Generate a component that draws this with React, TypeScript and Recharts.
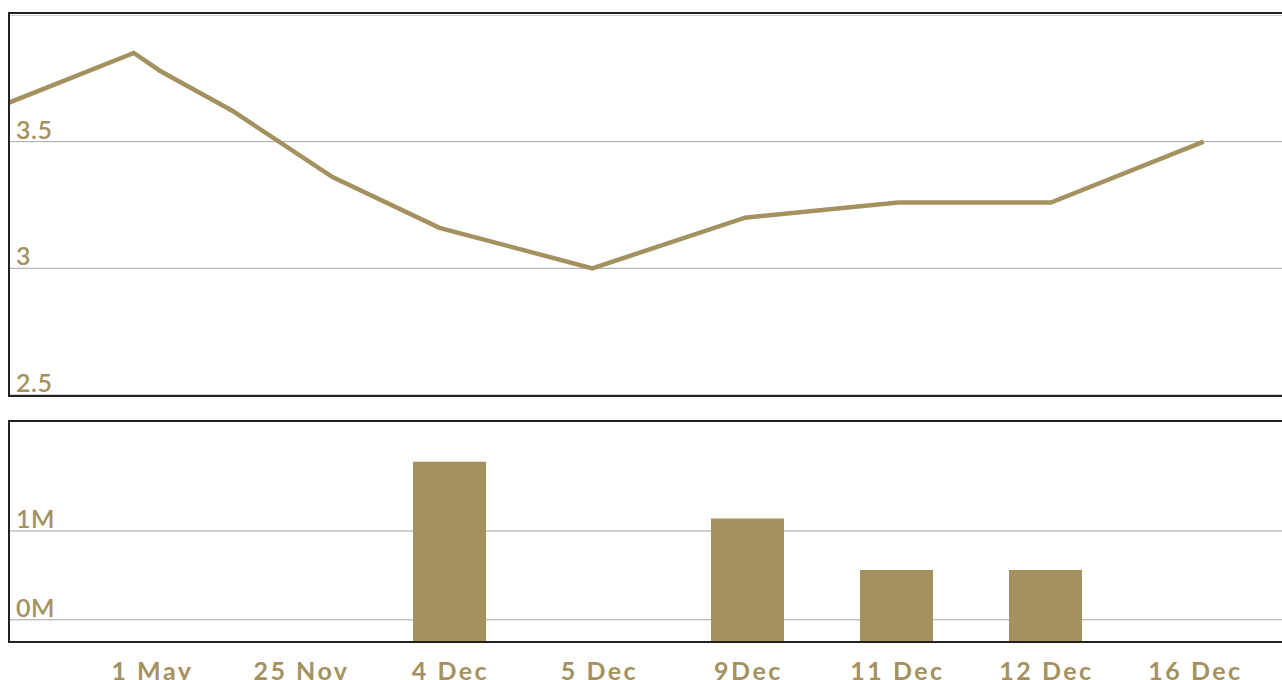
import React from 'react';
import { LineChart, Line, BarChart, Bar, XAxis, YAxis, CartesianGrid } from 'recharts';

const GOLD = '#a39160';
const GRID = '#a4a4a4';
const FRAME = '#222222';

// price line, x is measured in date slots (1 = "1 May" ... 8 = "16 Dec")
const priceX = [0, 1, 1.17, 1.65, 2.3, 3, 4, 5, 6, 7, 8];
const priceY = [3.61, 3.85, 3.78, 3.62, 3.36, 3.16, 3.0, 3.2, 3.26, 3.26, 3.5];
const priceTicks = [2.5, 3, 3.5];

// volume bars
const dates = ['1 May', '25 Nov', '4 Dec', '5 Dec', '9Dec', '11 Dec', '12 Dec', '16 Dec'];
const volumes = [0, 0, 2030000, 0, 1390000, 810000, 810000, 0];
const volumeTicks = [250000, 1250000];

const priceData = priceX.map((x, i) => ({ x, price: priceY[i] }));
const volumeData = dates.map((date, i) => ({ date, volume: volumes[i] }));

const fmtPrice = (v: number) => String(v);
const fmtVolume = (v: number) => Math.round(v / 1000000) + 'M';

const yTick = (fmt: (v: number) => string) => (props: any) => (
  <text x={6} y={props.y - 3} fill={GOLD} fontSize={25} fontWeight={600} letterSpacing={0.5} fontFamily="Lato" textAnchor="start">
    {fmt(props.payload.value)}
  </text>
);

const xTick = (props: any) => (
  <text x={props.x + 1} y={260} fill={GOLD} fontSize={25} letterSpacing={2.5} fontWeight={700} fontFamily="Lato" textAnchor="middle">
    {props.payload.value}
  </text>
);

const frame = (top: number, height: number): React.CSSProperties => ({
  position: 'absolute', left: 8, top, width: 1300, height,
  border: `2px solid ${FRAME}`, boxSizing: 'border-box', pointerEvents: 'none', zIndex: 2
});

export default function App() {
  return (
    <div style={{ position: 'fixed', left: 0, top: 0, width: 1282, height: 680, overflow: 'hidden', background: '#fff' }}>
      <div style={{ position: 'absolute', left: 10, top: 15 }}>
        <LineChart width={1290} height={380} data={priceData} margin={{ top: 0, right: 0, bottom: 0, left: 0 }}>
          <CartesianGrid vertical={false} stroke={GRID} />
          <XAxis dataKey="x" type="number" domain={[0.19, 8.63]} allowDataOverflow hide />
          <YAxis domain={[2.5, 4]} ticks={priceTicks} interval={0} mirror width={60} axisLine={false} tickLine={false} tick={yTick(fmtPrice)} />
          <Line type="linear" dataKey="price" stroke={GOLD} strokeWidth={4.5} dot={false} isAnimationActive={false} />
        </LineChart>
      </div>
      <div style={frame(12, 385)} />

      <div style={{ position: 'absolute', left: 10, top: 420 }}>
        <BarChart width={1290} height={262} data={volumeData} margin={{ top: 0, right: 0, bottom: 0, left: 0 }}>
          <CartesianGrid vertical={false} stroke={GRID} />
          <XAxis dataKey="date" height={40} padding={{ left: 67, right: 31 }} axisLine={false} tickLine={false} interval={0} tick={xTick} />
          <YAxis domain={[0, 2500000]} ticks={volumeTicks} interval={0} mirror width={60} axisLine={false} tickLine={false} tick={yTick(fmtVolume)} />
          <Bar dataKey="volume" fill={GOLD} barSize={73} isAnimationActive={false} />
        </BarChart>
      </div>
      <div style={frame(420, 223)} />
    </div>
  );
}
